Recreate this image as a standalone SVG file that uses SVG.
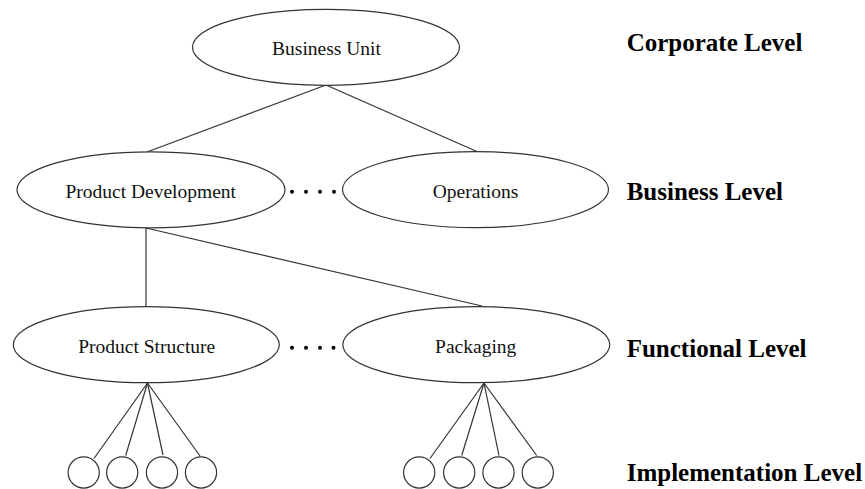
<svg xmlns="http://www.w3.org/2000/svg" width="865" height="489" viewBox="0 0 865 489">
  <style>
    .node { fill: #fff; stroke: #333; stroke-width: 1.2; }
    .leaf { fill: #fff; stroke: #333; stroke-width: 1.2; }
    .edge { stroke: #333; stroke-width: 1.2; fill: none; }
    .lbl { font-family: "Liberation Serif", "Times New Roman", serif; font-size: 19.5px; fill: #111; text-anchor: middle; }
    .lvl { font-family: "Liberation Serif", "Times New Roman", serif; font-size: 25px; font-weight: bold; fill: #000; }
    .dot { fill: #000; }
  </style>
  <rect width="865" height="489" fill="#fff"/>

  <!-- connectors -->
  <g id="connectors">
    <line class="edge" x1="326" y1="85" x2="147" y2="152"/>
    <line class="edge" x1="326" y1="85" x2="478" y2="152"/>
    <line class="edge" x1="146" y1="228" x2="146" y2="307"/>
    <line class="edge" x1="146" y1="228" x2="482" y2="306"/>
    <!-- Product Structure fan-out -->
    <line class="edge" x1="147.5" y1="383" x2="94" y2="458.5"/>
    <line class="edge" x1="147.5" y1="383" x2="125.7" y2="455.5"/>
    <line class="edge" x1="147.5" y1="383" x2="163" y2="455"/>
    <line class="edge" x1="147.5" y1="383" x2="200" y2="456"/>
    <!-- Packaging fan-out -->
    <line class="edge" x1="484" y1="383" x2="430" y2="458.5"/>
    <line class="edge" x1="484" y1="383" x2="461.7" y2="455.5"/>
    <line class="edge" x1="484" y1="383" x2="499" y2="455.5"/>
    <line class="edge" x1="484" y1="383" x2="536.7" y2="455.5"/>
  </g>

  <!-- ellipsis dots between siblings -->
  <g id="dots-business">
    <circle class="dot" cx="292" cy="191.7" r="2"/>
    <circle class="dot" cx="306" cy="191.7" r="2"/>
    <circle class="dot" cx="320" cy="191.7" r="2"/>
    <circle class="dot" cx="334" cy="191.7" r="2"/>
  </g>
  <g id="dots-functional">
    <circle class="dot" cx="292" cy="347.7" r="2"/>
    <circle class="dot" cx="306" cy="347.7" r="2"/>
    <circle class="dot" cx="320" cy="347.7" r="2"/>
    <circle class="dot" cx="333.5" cy="347.7" r="2"/>
  </g>

  <g id="business-unit">
    <ellipse class="node" cx="326" cy="47.3" rx="133.5" ry="38"/>
    <text class="lbl" x="326.5" y="54.5">Business Unit</text>
  </g>

  <g id="product-development">
    <ellipse class="node" cx="151" cy="189.8" rx="134" ry="38"/>
    <text class="lbl" x="150.7" y="197.5">Product Development</text>
  </g>

  <g id="operations">
    <ellipse class="node" cx="475.5" cy="189.6" rx="133" ry="38"/>
    <text class="lbl" x="475.5" y="197.5">Operations</text>
  </g>

  <g id="product-structure">
    <ellipse class="node" cx="146.3" cy="344.7" rx="133" ry="38"/>
    <text class="lbl" x="146.7" y="353.3">Product Structure</text>
  </g>

  <g id="packaging">
    <ellipse class="node" cx="476.3" cy="344.7" rx="133.5" ry="38"/>
    <text class="lbl" x="475.7" y="353.3">Packaging</text>
  </g>

  <g id="ps-tasks">
    <circle class="leaf" cx="83.7" cy="472.5" r="15.6"/>
    <circle class="leaf" cx="122.2" cy="472.5" r="15.6"/>
    <circle class="leaf" cx="162" cy="472.5" r="15.6"/>
    <circle class="leaf" cx="201" cy="472.5" r="15.6"/>
  </g>

  <g id="pk-tasks">
    <circle class="leaf" cx="419.2" cy="472.5" r="15.6"/>
    <circle class="leaf" cx="459.2" cy="472.5" r="15.6"/>
    <circle class="leaf" cx="498.5" cy="472.5" r="15.6"/>
    <circle class="leaf" cx="537.8" cy="472.5" r="15.6"/>
  </g>

  <!-- level captions -->
  <g id="levels">
    <text class="lvl" x="626.7" y="51">Corporate Level</text>
    <text class="lvl" x="626.7" y="200">Business Level</text>
    <text class="lvl" x="626.7" y="356.7">Functional Level</text>
    <text class="lvl" x="626.7" y="480.7">Implementation Level</text>
  </g>
</svg>
